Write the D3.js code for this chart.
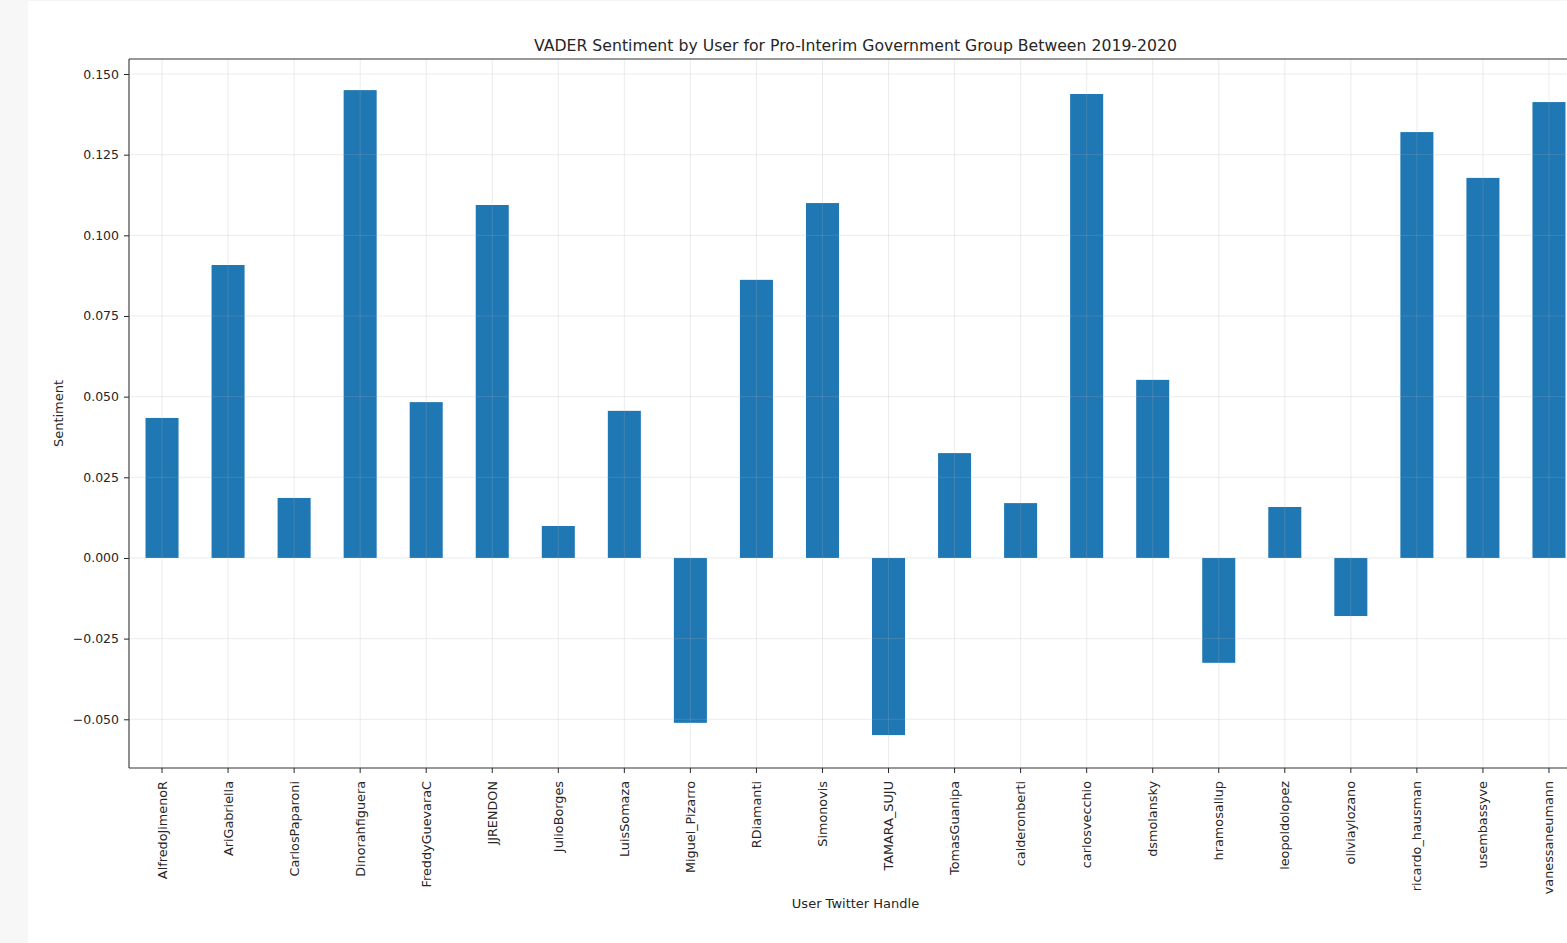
<!DOCTYPE html>
<html>
<head>
<meta charset="utf-8">
<script src="https://cdn.jsdelivr.net/npm/d3@7"></script>
<style>
  html, body { margin: 0; padding: 0; background: #fff; overflow: hidden; }
  svg { display: block; font-family: "DejaVu Sans", sans-serif; }
</style>
</head>
<body>
<script>
// Twitter handles in the Pro-Interim Government group
const users = [
  "AlfredoJimenoR", "AriGabriella", "CarlosPaparoni", "Dinorahfiguera",
  "FreddyGuevaraC", "JJRENDON", "JulioBorges", "LuisSomaza",
  "Miguel_Pizarro", "RDiamanti", "Simonovis", "TAMARA_SUJU",
  "TomasGuanipa", "calderonberti", "carlosvecchio", "dsmolansky",
  "hramosallup", "leopoldolopez", "oliviaylozano", "ricardo_hausman",
  "usembassyve", "vanessaneumann"
];

// Mean VADER compound sentiment per user
const sentiment = [
  0.0434, 0.0908, 0.0186, 0.1450,
  0.0483, 0.1094, 0.0099, 0.0456,
  -0.0511, 0.0862, 0.1100, -0.0549,
  0.0325, 0.0170, 0.1438, 0.0552,
  -0.0325, 0.0158, -0.0180, 0.1320,
  0.1178, 0.1413
];

const yTicks = [-0.050, -0.025, 0.000, 0.025, 0.050, 0.075, 0.100, 0.125, 0.150];

const W = 1567, H = 943;
const plot = { left: 129, top: 59, right: 1582, bottom: 768 };

const svg = d3.select("body").append("svg")
  .attr("width", W).attr("height", H);

// page gutter on the left
svg.append("rect").attr("x", 0).attr("y", 0).attr("width", 28).attr("height", H).attr("fill", "#f7f7f7");
svg.append("rect").attr("x", 28).attr("y", 0).attr("width", W - 28).attr("height", 1).attr("fill", "#f4f4f4");

const x = d3.scaleBand()
  .domain(users)
  .range([plot.left, plot.right])
  .paddingInner(0.5)
  .paddingOuter(0.25);

const y = d3.scaleLinear()
  .domain([-0.0651, 0.15465])
  .range([plot.bottom, plot.top]);

const clipId = "plotClip";
svg.append("clipPath").attr("id", clipId)
  .append("rect")
  .attr("x", plot.left).attr("y", plot.top)
  .attr("width", plot.right - plot.left).attr("height", plot.bottom - plot.top);

const g = svg.append("g").attr("clip-path", `url(#${clipId})`);

// bars
g.selectAll("rect.bar")
  .data(users.map((u, i) => ({ u, v: sentiment[i] })))
  .join("rect")
  .attr("class", "bar")
  .attr("x", d => x(d.u))
  .attr("width", x.bandwidth())
  .attr("y", d => y(Math.max(0, d.v)))
  .attr("height", d => Math.abs(y(d.v) - y(0)))
  .attr("fill", "#1f77b4");

// grid drawn over the bars, faint
const grid = g.append("g").attr("stroke", "#b0b0b0").attr("stroke-opacity", 0.3).attr("stroke-width", 0.8);
grid.selectAll("line.h").data(yTicks).join("line")
  .attr("x1", plot.left).attr("x2", plot.right)
  .attr("y1", d => y(d)).attr("y2", d => y(d));
grid.selectAll("line.v").data(users).join("line")
  .attr("x1", d => x(d) + x.bandwidth() / 2).attr("x2", d => x(d) + x.bandwidth() / 2)
  .attr("y1", plot.top).attr("y2", plot.bottom);

// axes
const yAxis = d3.axisLeft(y).tickValues(yTicks)
  .tickFormat(d => (d < 0 ? "\u2212" : "") + Math.abs(d).toFixed(3))
  .tickSize(5).tickPadding(5);
const yg = svg.append("g").attr("transform", `translate(${plot.left},0)`).call(yAxis);

const xAxis = d3.axisBottom(x).tickSize(5).tickPadding(4);
const xg = svg.append("g").attr("transform", `translate(0,${plot.bottom})`).call(xAxis);

[yg, xg].forEach(a => {
  a.select(".domain").remove();
  a.selectAll("text").attr("fill", "#262626").style("font-size", "12.5px").style("font-family", "DejaVu Sans, sans-serif");
  a.selectAll(".tick line").attr("stroke", "#262626").attr("stroke-width", 1);
});

// rotated category labels hanging just below their ticks
xg.selectAll(".tick text")
  .attr("transform", "rotate(-90)")
  .attr("text-anchor", "end")
  .attr("x", -13).attr("y", 0)
  .attr("dx", 0).attr("dy", "0.35em")
  .style("font-size", "12.8px");

// spines (right side falls off the page)
const spine = svg.append("g").attr("stroke", "#333").attr("stroke-width", 1.1).attr("fill", "none");
spine.append("line").attr("x1", plot.left).attr("x2", plot.left).attr("y1", plot.top).attr("y2", plot.bottom);
spine.append("line").attr("x1", plot.left).attr("x2", plot.right).attr("y1", plot.bottom).attr("y2", plot.bottom);
spine.append("line").attr("x1", plot.left).attr("x2", plot.right).attr("y1", plot.top).attr("y2", plot.top);

const cx = (plot.left + plot.right) / 2;

svg.append("text")
  .attr("x", cx).attr("y", 51)
  .attr("text-anchor", "middle")
  .attr("fill", "#262626")
  .style("font-size", "15.7px")
  .text("VADER Sentiment by User for Pro-Interim Government Group Between 2019-2020");

svg.append("text")
  .attr("x", cx).attr("y", 908)
  .attr("text-anchor", "middle")
  .attr("fill", "#262626")
  .style("font-size", "13px")
  .text("User Twitter Handle");

svg.append("text")
  .attr("transform", `translate(63,${(plot.top + plot.bottom) / 2}) rotate(-90)`)
  .attr("text-anchor", "middle")
  .attr("fill", "#262626")
  .style("font-size", "13px")
  .text("Sentiment");
</script>
</body>
</html>
